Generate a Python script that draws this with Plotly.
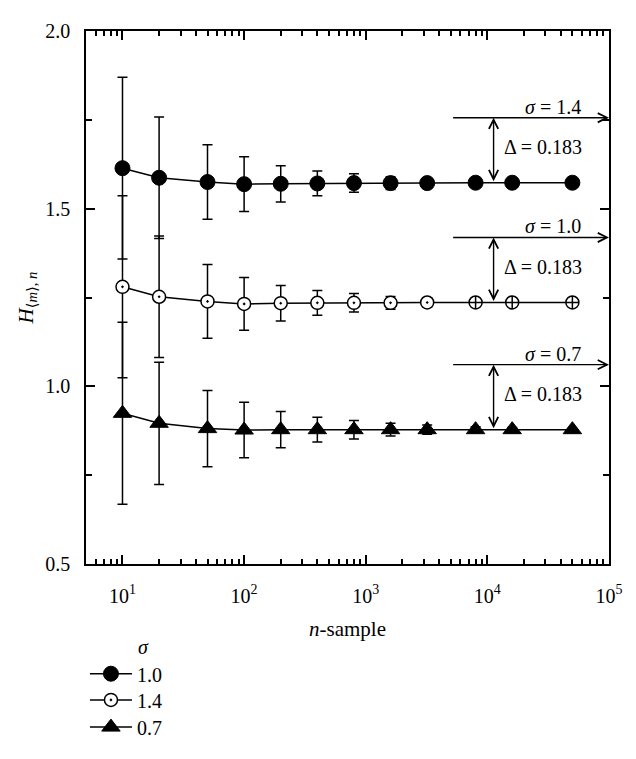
import plotly.graph_objects as go

# ---- data ----
n_sample = [10, 20, 50, 100, 200, 400, 800, 1600, 3200, 8000, 16000, 50000]

h_filled = [1.614, 1.587, 1.575, 1.569, 1.570, 1.571, 1.572, 1.572, 1.572, 1.573, 1.573, 1.573]
err_filled = [0.256, 0.171, 0.105, 0.077, 0.051, 0.035, 0.026, 0.018, 0.013, 0.008, 0.006, 0.003]

h_open = [1.280, 1.252, 1.239, 1.232, 1.234, 1.235, 1.235, 1.235, 1.236, 1.236, 1.236, 1.236]
err_open = [0.256, 0.171, 0.104, 0.074, 0.050, 0.035, 0.026, 0.018, 0.013, 0.008, 0.006, 0.003]

h_tri = [0.924, 0.896, 0.881, 0.877, 0.878, 0.878, 0.878, 0.878, 0.878, 0.878, 0.878, 0.878]
err_tri = [0.256, 0.172, 0.107, 0.078, 0.051, 0.035, 0.026, 0.018, 0.013, 0.008, 0.006, 0.003]

legend_labels = ["1.0", "1.4", "0.7"]
sigma_labels = ["1.4", "1.0", "0.7"]
delta = 0.183

x_tickvals = [10, 100, 1000, 10000, 100000]
x_ticktext = ["10<sup>1</sup>", "10<sup>2</sup>", "10<sup>3</sup>", "10<sup>4</sup>", "10<sup>5</sup>"]
y_tickvals = [0.5, 1.0, 1.5, 2.0]
y_ticktext = ["0.5", "1.0", "1.5", "2.0"]

FONT = "Liberation Serif, Times New Roman, DejaVu Serif, serif"
BLACK = "black"

x_minor = []
for d in [1, 10, 100, 1000, 10000]:
    for k in range(2, 10):
        v = d * k
        if v >= 5:
            x_minor.append(v)

fig = go.Figure()

open_symbols = ["circle-dot"] * 9 + ["circle-cross"] * 3

series = [
    (h_filled, err_filled, dict(symbol="circle", size=15, color=BLACK, line=dict(color=BLACK, width=1)), "legend"),
    (h_open, err_open, dict(symbol=open_symbols, size=13, color="white", line=dict(color=BLACK, width=1.5)), "legend2"),
    (h_tri, err_tri, dict(symbol="triangle-up", size=16, color=BLACK, line=dict(color=BLACK, width=1)), "legend3"),
]

for (ys, es, mk, lg), lab in zip(series, legend_labels):
    fig.add_trace(go.Scatter(
        x=n_sample, y=ys, mode="lines+markers", name=lab,
        line=dict(color=BLACK, width=1.5),
        marker=mk,
        error_y=dict(type="data", array=es, visible=True, color=BLACK, thickness=1.5, width=5),
        legend=lg,
    ))

# ---- annotations: sigma level lines and delta arrows ----
x_line_start = 3.706
x_vert = 4.051
x_sigma_text = 4.79
x_delta_text = 4.117

for ys, slab in zip([h_filled, h_open, h_tri], sigma_labels):
    plateau = ys[-1]
    level = plateau + delta
    fig.add_annotation(x=5, y=level, ax=x_line_start, ay=level, axref="x", ayref="y",
                       xref="x", yref="y", text="", showarrow=True,
                       arrowhead=5, arrowsize=1.3, arrowwidth=1.4, arrowcolor=BLACK)
    fig.add_annotation(x=x_vert, y=level, ax=x_vert, ay=plateau, axref="x", ayref="y",
                       xref="x", yref="y", text="", showarrow=True,
                       arrowhead=5, startarrowhead=5, arrowside="end+start",
                       arrowsize=1.3, startarrowsize=1.3, arrowwidth=1.4, arrowcolor=BLACK)
    fig.add_annotation(x=x_sigma_text, y=level, xref="x", yref="y", showarrow=False,
                       text="<i>σ</i> = " + slab, xanchor="right", yanchor="bottom", yshift=-2,
                       font=dict(family=FONT, size=20, color=BLACK))
    fig.add_annotation(x=x_delta_text, y=(level + plateau) / 2, xref="x", yref="y", showarrow=False,
                       text="Δ = " + f"{delta:.3f}", xanchor="left", yanchor="middle", yshift=3,
                       font=dict(family=FONT, size=20, color=BLACK))

# legend title
fig.add_annotation(x=(143 - 86) / 523, y=(572 - 657) / 549, xref="paper", yref="paper",
                   showarrow=False, text="<i>σ</i>", xanchor="center", yanchor="middle",
                   font=dict(family=FONT, size=20, color=BLACK))

axis_common = dict(
    showline=True, linecolor=BLACK, linewidth=1.5, mirror="allticks",
    ticks="inside", tickcolor=BLACK, tickwidth=1.5, ticklen=9,
    showgrid=False, zeroline=False,
    tickfont=dict(family=FONT, size=20, color=BLACK),
)

fig.update_xaxes(
    type="log", range=[0.7, 5],
    tickmode="array", tickvals=x_tickvals, ticktext=x_ticktext,
    minor=dict(tickmode="array", tickvals=x_minor, ticks="inside", ticklen=5,
               tickcolor=BLACK, tickwidth=1.5, showgrid=False),
    ticklabelstandoff=13,
    title=dict(text="<i>n</i>-sample", font=dict(family=FONT, size=21, color=BLACK), standoff=16),
    **axis_common,
)
fig.update_yaxes(
    range=[0.5, 2.0],
    tickmode="array", tickvals=y_tickvals, ticktext=y_ticktext,
    minor=dict(tickmode="array", tickvals=[0.75, 1.25, 1.75], ticks="inside", ticklen=6,
               tickcolor=BLACK, tickwidth=1.5, showgrid=False),
    ticklabelstandoff=10,
    title=dict(text="<i>H</i><sub>⟨<i>m</i>⟩, <i>n</i></sub>", font=dict(family=FONT, size=21, color=BLACK), standoff=6),
    **axis_common,
)

# page has an 8px body margin, so figure is offset by 8px
leg_common = dict(x=-0.002, xanchor="left", yanchor="middle", bgcolor="rgba(0,0,0,0)",
                  font=dict(family=FONT, size=20, color=BLACK), borderwidth=0, itemwidth=42)
fig.update_layout(
    width=628, height=751,
    margin=dict(l=78, r=27, t=15, b=187),
    paper_bgcolor="white", plot_bgcolor="white",
    showlegend=True,
    legend=dict(y=(572 - 685) / 549, **leg_common),
    legend2=dict(y=(572 - 712) / 549, **leg_common),
    legend3=dict(y=(572 - 740) / 549, **leg_common),
)

fig.write_html("out.html")
